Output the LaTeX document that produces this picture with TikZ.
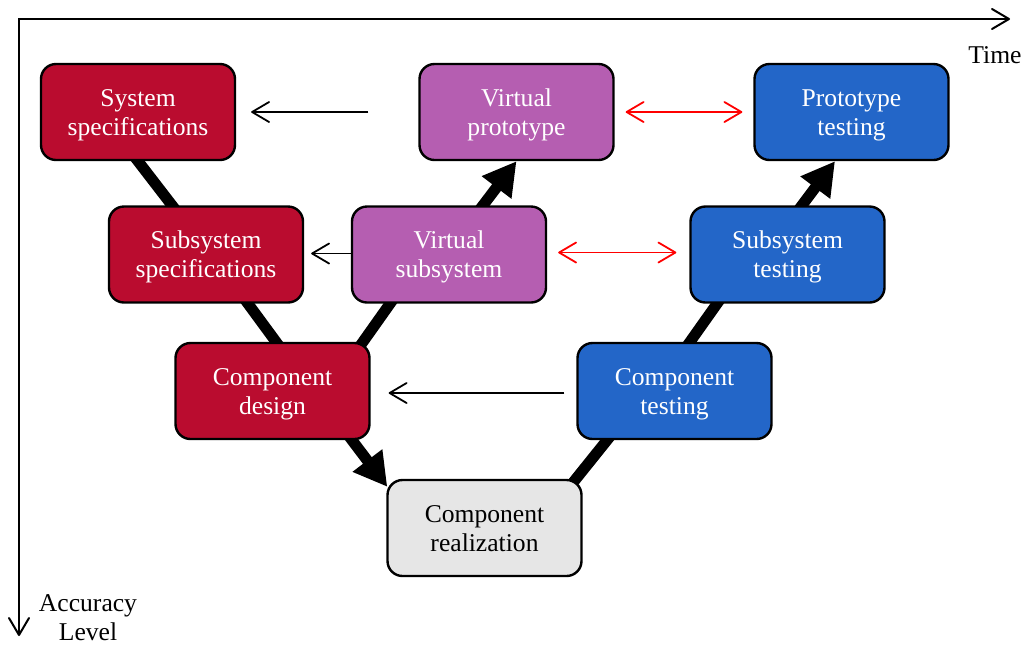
\documentclass[tikz,border=0pt]{standalone}
\usepackage{fontspec}
\setmainfont{Liberation Serif}
\usetikzlibrary{arrows.meta,backgrounds,calc}
\definecolor{specred}{RGB}{186,12,47}
\definecolor{virtpurple}{RGB}{181,94,177}
\definecolor{testblue}{RGB}{35,102,200}
\definecolor{realgray}{RGB}{230,230,230}
\newcommand\boxtext[2]{\raisebox{-4.5pt}[0pt][0pt]{\begin{tabular}{@{}c@{}}#1\\#2\end{tabular}}}
\begin{document}
\begin{tikzpicture}[x=0.5pt,y=-0.5pt,font=\fontsize{12.8}{14.5}\selectfont,
  box/.style={draw=black,line width=1.2pt,rounded corners=7.5pt,minimum width=97pt,minimum height=48pt,inner sep=0pt},
  spec/.style={box,fill=specred,text=white},
  virt/.style={box,fill=virtpurple,text=white},
  test/.style={box,fill=testblue,text=white},
  real/.style={box,fill=realgray,text=black},
  flow/.style={line width=5.5pt},
  flowarrow/.style={flow,-{Triangle[length=16.5pt,width=17.5pt]}},
  barb/.tip={Straight Barb[length=8.5pt,width=10pt,line cap=round,line join=round]},
  thinarrow/.style={line width=0.9pt,-barb},
  redarrow/.style={line width=0.9pt,red,barb-barb},
  axis/.style={line width=1pt,barb-barb}
]
\useasboundingbox (0,0) rectangle (1027,644);

% axes
\coordinate (O) at (19,19);
\coordinate (TE) at (1010,19);
\coordinate (AE) at (19,636);
\draw[axis] (TE) -- (O) -- (AE);
\node (time) at (995,55) {Time};
\node[align=center] (acc) at (88,618) {Accuracy\\Level};

% boxes
\node[spec] (A) at (138,112) {\boxtext{System}{specifications}};
\node[virt] (VP) at (516.5,112) {\boxtext{Virtual}{prototype}};
\node[test] (PT) at (851.5,112) {\boxtext{Prototype}{testing}};
\node[spec] (B) at (206,254.5) {\boxtext{Subsystem}{specifications}};
\node[virt] (VS) at (449,254.5) {\boxtext{Virtual}{subsystem}};
\node[test] (ST) at (787.5,254.5) {\boxtext{Subsystem}{testing}};
\node[spec] (CD) at (272.5,391) {\boxtext{Component}{design}};
\node[test] (CT) at (674.5,391) {\boxtext{Component}{testing}};
\node[real] (CR) at (484.5,528) {\boxtext{Component}{realization}};

% thick V-path
\begin{scope}[on background layer]
\draw[flow,shorten <=-4pt,shorten >=-4pt] (A.south) -- ($(B.north)+(-34,0)$);
\draw[flow,shorten <=-4pt,shorten >=-4pt] ($(B.south)+(42,0)$) -- ($(CD.north)+(3.5,0)$);
\draw[flowarrow,shorten <=-4pt] ($(CD.south)+(79.5,0)$) -- ($(CR.north west)+(1,8)$);
\draw[flow,shorten <=-4pt,shorten >=-4pt] ($(CR.north)+(91.5,0)$) -- ($(CT.south)+(-67.5,0)$);
\draw[flow,shorten <=-4pt,shorten >=-4pt] ($(CT.north)+(15.5,0)$) -- ($(ST.south)+(-70.5,0)$);
\draw[flowarrow,shorten <=-4pt] ($(ST.north)+(14.5,0)$) -- ($(PT.south)+(-16.5,0)$);
\draw[flow,shorten <=-4pt,shorten >=-4pt] ($(CD.north)+(90.5,0)$) -- ($(VS.south)+(-59,0)$);
\draw[flowarrow,shorten <=-4pt] ($(VS.north)+(34,0)$) -- (VP.south);
\end{scope}

% thin arrows
\draw[thinarrow,shorten <=25pt,shorten >=7.5pt] (VP.west) -- (A.east);
\draw[thinarrow,shorten >=3.5pt] ($(VS.west)+(0,-1)$) -- ($(B.east)+(0,-1)$);
\draw[thinarrow,shorten <=6pt,shorten >=9pt] ($(CT.west)+(0,2)$) -- ($(CD.east)+(0,2)$);
\draw[redarrow,shorten <=5.5pt,shorten >=5.5pt] (VP.east) -- (PT.west);
\draw[redarrow,shorten <=5.5pt,shorten >=6.5pt] ($(VS.east)+(0,-2)$) -- ($(ST.west)+(0,-2)$);
\end{tikzpicture}
\end{document}
